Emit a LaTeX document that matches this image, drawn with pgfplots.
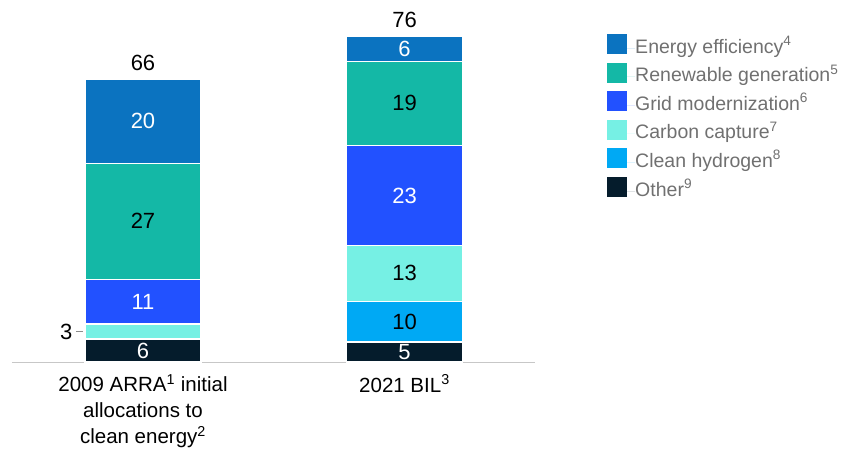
\documentclass[border=0pt]{standalone}
\usepackage{fontspec}
\setmainfont{Liberation Sans}
\usepackage{pgfplots}
\pgfplotsset{compat=1.18}
\definecolor{cEnergy}{HTML}{0B73C0}
\definecolor{cRenew}{HTML}{14B8A6}
\definecolor{cGrid}{HTML}{2251FF}
\definecolor{cCarbon}{HTML}{76F0E4}
\definecolor{cHydro}{HTML}{00A9F4}
\definecolor{cOther}{HTML}{051C2C}
\definecolor{cLegText}{HTML}{707070}
\pgfplotsset{
  common/.style={
    scale only axis, width=523pt, height=361.2pt,
    xmin=12, xmax=535, ymin=0, ymax=84,
    at={(12pt,91pt)}, anchor=south west,
    clip=false,
  }
}
\begin{document}
\begin{tikzpicture}
\useasboundingbox (0,0) rectangle (841pt,453pt);
\begin{axis}[common,
  ybar stacked, bar width=116pt,
  axis y line=none, axis x line*=bottom,
  x axis line style={draw=black!22, line width=1pt, -},
  xtick={143,404.5}, major tick length=0pt,
  xticklabels={{2009 ARRA\textsuperscript{1} initial\\allocations to\\clean energy\textsuperscript{2}},{2021 BIL\textsuperscript{3}}},
  xticklabel style={align=center, font=\fontsize{20.5}{26}\selectfont, text=black, yshift=-9pt},
  every axis plot/.append style={draw=white, line width=1.2pt},
  reverse legend,
  legend cell align=left,
  legend image code/.code={\fill[#1, draw=none] (0pt,-6pt) rectangle (20pt,14pt); \path[draw=none] (0pt,0pt) -- (28pt,0pt);},
  legend style={at={(1.132,0.914)}, anchor=north west, draw=none, fill=none,
    font=\fontsize{19.5}{22}\selectfont, text=cLegText,
    row sep=5.6pt, column sep=0pt,
    nodes={inner sep=0pt, text height=14pt, text depth=4pt}},
]
\addplot[fill=cOther] coordinates {(143,5.35) (404.5,4.65)};
\addplot[fill=cHydro] coordinates {(143,0) (404.5,9.5)};
\addplot[fill=cCarbon] coordinates {(143,3.5) (404.5,12.95)};
\addplot[fill=cGrid] coordinates {(143,10.4) (404.5,23.25)};
\addplot[fill=cRenew] coordinates {(143,27.0) (404.5,19.6)};
\addplot[fill=cEnergy] coordinates {(143,19.5) (404.5,5.8)};
\legend{Other\textsuperscript{9},Clean hydrogen\textsuperscript{8},Carbon capture\textsuperscript{7},Grid modernization\textsuperscript{6},Renewable generation\textsuperscript{5},Energy efficiency\textsuperscript{4}}
\end{axis}
\begin{axis}[common, axis lines=none, ticks=none]
\addplot[only marks, mark=none, point meta=explicit symbolic, nodes near coords,
  every node near coord/.style={anchor=center, text=white, font=\fontsize{22}{24}\selectfont, inner sep=0pt}]
  coordinates {(143,2.675)[6] (143,14.05)[11] (143,56.0)[20] (404.5,2.325)[5] (404.5,38.7)[23] (404.5,72.85)[6]};
\addplot[only marks, mark=none, point meta=explicit symbolic, nodes near coords,
  every node near coord/.style={anchor=center, text=black, font=\fontsize{22}{24}\selectfont, inner sep=0pt}]
  coordinates {(143,32.75)[27] (404.5,60.25)[19] (404.5,20.6)[13] (404.5,9.4)[10]};
\addplot[only marks, mark=none, point meta=explicit symbolic, nodes near coords,
  every node near coord/.style={anchor=south, text=black, font=\fontsize{22}{24}\selectfont, inner sep=0pt, yshift=8pt}]
  coordinates {(143,65.75)[66] (404.5,75.75)[76]};
\addplot[only marks, mark=none, point meta=explicit symbolic, nodes near coords,
  every node near coord/.style={anchor=east, text=black, font=\fontsize{22}{24}\selectfont, inner sep=0pt}]
  coordinates {(83.5,7.1)[{3\hspace{4pt}{\color{black!45}\rule[0.33em]{7pt}{0.7pt}}}]};
\end{axis}
\end{tikzpicture}
\end{document}
